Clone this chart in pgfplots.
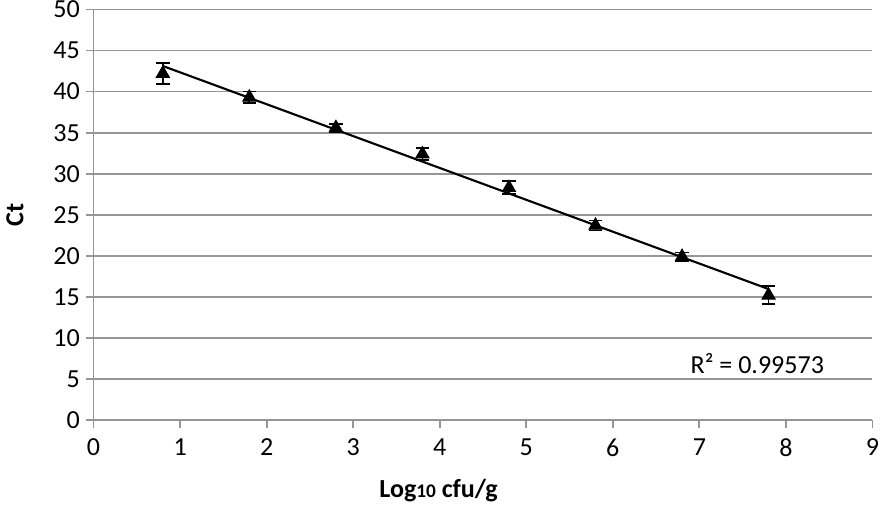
\documentclass[border=0pt]{standalone}
\usepackage{pgfplots}
\pgfplotsset{compat=1.18}
\usepackage{fontspec}
\setmainfont{Carlito}
\definecolor{axgray}{RGB}{150,150,150}
\begin{document}
\begin{tikzpicture}
\begin{axis}[
  scale only axis, width=404pt, height=213pt,
  xmin=0, xmax=9, ymin=0, ymax=50,
  xtick={0,1,...,9}, ytick={0,5,...,50},
  axis x line*=bottom, axis y line*=left,
  tick align=outside, major tick length=4pt,
  axis line style={axgray, line width=0.9pt},
  tick style={axgray, line width=0.9pt},
  ymajorgrids, major grid style={axgray, line width=0.9pt},
  /pgf/number format/assume math mode=true,
  ticklabel style={font=\fontsize{13.5}{15}\selectfont, inner sep=0.5pt},
  xticklabel style={yshift=-5pt},
  yticklabel style={xshift=-2.5pt},
  xlabel={\bfseries Log{\fontsize{10}{11}\selectfont 10} cfu/g},
  ylabel={\bfseries Ct},
  label style={font=\fontsize{13.5}{15}\selectfont},
  x label style={at={(axis description cs:0.443,0)}, anchor=north, yshift=-27pt},
  y label style={at={(axis description cs:-0.081,0.5)}, anchor=south, rotate=0},
  clip=false,
]
\addplot[black, only marks, mark=triangle*, mark size=4pt,
  error bars/.cd, y dir=both, y explicit,
  error bar style={black, line width=0.9pt},
  error mark options={rotate=90, mark size=3.5pt, line width=0.9pt, black}]
  table[x=x, y=y, y error=e] {
  x y e
  0.8 42.2 1.3
  1.8 39.3 0.7
  2.8 35.6 0.5
  3.8 32.4 0.7
  4.8 28.3 0.8
  5.8 23.7 0.6
  6.8 19.9 0.5
  7.8 15.2 1.1
};
\addplot[black, line width=1.1pt, no marks] coordinates {(0.8,43.12) (7.8,15.96)};
\node[font=\fontsize{13.5}{15}\selectfont, anchor=center] at (axis cs:7.67,6.9) {R² = 0.99573};
\end{axis}
\end{tikzpicture}
\end{document}
